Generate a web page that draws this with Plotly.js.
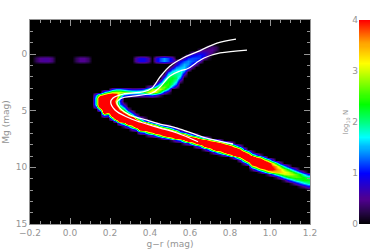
<!DOCTYPE html>
<html><head><meta charset="utf-8">
<script src="https://cdn.plot.ly/plotly-3.0.1.min.js"></script>
<style>html,body{margin:0;padding:0;background:#fff}#c{width:374px;height:249px}</style>
</head><body><div id="c"></div>
<script>
// Hess-diagram bins: column, first row, then log10 N values
const clump = [
[1,13,.3,.3],[2,13,.5,.5],[3,13,.55,.55],[4,13,.55,.55],[5,13,.4,.4],
[11,13,.3,.3],[12,13,.5,.5],[13,13,.5,.5],[14,13,.35,.35],
[26,13,.6,.6],[27,13,.9,.9],[28,13,.9,.9],[29,13,.6,.6],
[31,13,.8,.8],[32,13,1.2,1.2],[33,13,1.45,1.45],[34,13,1.2,1.2],[35,13,.8,.8]
];
const turnoff = [
[16,26,1.4,2,2,2,1.4],
[17,26,3.2,5.5,5.5,5.5,5.5,2.5],
[18,25,1.5,4,5.5,5.5,5.5,5.5,5.5,5.5,1.5],
[19,25,2.2,5,5.5,5.5,5.5,5.5,5.5,4,1],
[20,24,1,3,5,5.5,5.5,5.5,5.5,5.5,5.5,5.5,2],
[21,24,1.5,3,4.5,3.8,3,3.5,4.2,5.5,5.5,5.5,5.5,1.5],
[22,24,1.5,3,2.5,1.5,1,1.3,2,3,5,5.5,5.5,5.5,1.5],
[23,24,1.2,2.8,1.2],[23,29,.5,1,2,3.2,5.5,5.5,5.5,2.5,.5],
[24,24,1,2.5,1],[24,31,.6,1.8,3.5,5.5,5.5,5.5,1.5],
[25,24,.8,2.3,.8],[25,32,.8,2,5.5,5.5,5.5,3,.8],
[26,24,.8,2.2,.8],[26,33,.8,2.5,5.5,5.5,5.5,1.5],
[27,24,.9,2.2,.8],[27,34,1,3,5.5,5.5,5,1.2],
[28,24,1.2,2.4,.9],[28,34,.4,1.5,5.5,5.5,5.5,1.5],
[29,23,.6,2,3,1],[29,35,.6,2.8,5.5,5.5,3,.5],
[30,23,1,2.8,3.4,1.2],[30,36,1.5,5.5,5.5,3.8,.8]
];
const giantBranch = [
[31,22,.8,2,3,3,.8],
[32,21,.8,1.8,2.6,3,2.2,.3],
[33,19,.5,1.3,2,2.4,2.7,2.5,1],
[34,17,.5,1.2,1.8,2.2,2.4,2.5,2.3,1.6,.4],
[35,16,.6,1.4,1.8,2.1,2.3,2.2,2,1.3],
[36,14,.5,.7,1.3,1.7,1.9,2,2.1,1.8,1.3,.5],
[37,14,.9,1.2,1.5,1.7,1.9,1.8,1.3,.5],
[38,13,.6,1.2,1.5,1.6,1.6,1.2,.5],
[39,12,.5,1.1,1.4,1.4,1.2,.6],
[40,11,.5,.9,1.2,1.25,1,.5],
[41,11,.7,1,1.2,1.1,.6],
[42,10,.4,.8,1.1,1.15,.7],
[43,10,.5,.8,.9,.6],
[44,9,.3,.5,.6,.5,.2],
[45,9,.4,.5,.4],
[46,9,.3,.3]
];
const mainSequence = [
[31,36,.8,3.5,5.5,5.5,1.8],
[32,37,2,5.5,5.5,3,.3],
[33,37,1.2,4,5.5,4.5,1],
[34,37,.6,3.2,5.5,5.5,1.8],
[35,38,2,5,5.5,3,.3],
[36,38,.8,4,5.5,4.5,1],
[37,39,1.5,5.5,5.5,1.5],
[38,39,1,4.5,5.5,3.5,.5],
[39,40,2.5,5.5,5.5,1],
[40,40,1.5,5,5.5,2.5],
[41,40,.8,4,5.5,4,.8],
[42,41,2.5,5.5,5.5,1.5],
[43,41,1.5,4.5,5.5,4,.5],
[44,41,.7,3.5,5.5,5.5,1.5],
[45,42,2.5,5.5,5.5,3.5,.5],
[46,42,1.5,5,5.5,5.5,1.5],
[47,42,.8,4,5.5,5.5,2.5,.3],
[48,43,3,5.5,5.5,4,.8],
[49,43,1.5,5,5.5,5.5,2],
[50,43,.7,3.5,5.5,5.5,3.5,.5],
[51,44,2,5,5.5,5.5,2],
[52,44,.8,3.5,5.5,5.5,3.5,.8],
[53,45,1,4,5.5,5.5,3,.6],
[54,46,2.5,5,5.5,5,2],
[55,46,.5,2.5,5.5,5.5,5.5,2.8,.5],
[56,47,1.5,3.5,5.5,5.5,3.8,1.5],
[57,47,.5,2.8,5.5,5.5,5.5,2.8,.4],
[58,48,1.2,3.6,5.5,5.5,3.6,1.4],
[59,49,2.5,4.5,5,4.5,2.5,.4],
[60,49,1,3.3,3.9,4.2,3.2,1.2],
[61,50,2.2,3.5,3.7,3.4,2,.3],
[62,50,.8,2.6,3.4,3.4,2.6,1],
[63,51,1.6,2.8,3.2,3,1.8,.3],
[64,51,.7,2.2,3,3,2.3,1],
[65,52,1.4,2.6,2.9,2.5,1.5,.3],
[66,52,.7,2,2.6,2.6,2,.8],
[67,53,1.3,2.3,2.5,2.2,1.3,.3],
[68,53,.5,1.6,2.3,2.4,1.7,.6],
[69,54,1,2,2.3,2,1,.2]
];
const iso1Color = [.64,.535,.45,.35,.285,.225,.2035,.215,.265,.365,.41,.45,.5,.565,.635,.735,.83];
const iso1Mag = [7.74,6.97,6.53,6.0,5.56,4.94,4.24,3.88,3.53,3.35,3.0,2.03,1.06,.35,-.18,-.97,-1.32];
const iso2Color = [.815,.665,.535,.45,.385,.3,.25,.235,.26,.315,.41,.45,.5,.55,.59,.63,.67,.75,.885];
const iso2Mag = [7.94,7.33,6.53,6.18,5.83,5.38,4.77,4.24,3.88,3.71,3.44,2.91,1.94,1.5,1.28,.79,.35,-.09,-.35];
const xTicks = [-0.2,0,0.2,0.4,0.6,0.8,1,1.2];
const xTickText = ['\u22120.2','0.0','0.2','0.4','0.6','0.8','1.0','1.2'];
const yTicks = [0,5,10,15];
const barTicks = [0,1,2,3,4];

const rainbow = [[0,'#000000'],[.0625,'#28064a'],[.125,'#500090'],[.25,'#0000ff'],[.375,'#00b0ff'],[.425,'#00ffff'],
 [.5,'#00ff80'],[.59,'#00ff00'],[.75,'#d0ff00'],[.79,'#ffff00'],[.89,'#ffa000'],[1,'#ff0000']];

const nCols=70,nRows=72,xs=[],ys=[],z=[];
for(let k=0;k<nCols;k++) xs.push(-0.19+0.02*k);
for(let r=0;r<nRows;r++){ys.push(-3+(r+.5)*.25);z.push(new Array(nCols).fill(0));}
[clump,turnoff,giantBranch,mainSequence].forEach(list=>list.forEach(s=>{
  for(let i=2;i<s.length;i++) z[s[1]+i-2][s[0]]=s[i];
}));
const barY=[],barZ=[];
for(let i=0;i<=200;i++){barY.push(i*.02);barZ.push([i*.02,i*.02]);}

const gray='#949494', W=374, H=249;
const font={family:'"DejaVu Sans",sans-serif',size:9,color:gray};
const traces=[
 {type:'heatmap',x:xs,y:ys,z:z,zmin:0,zmax:4,zsmooth:'best',colorscale:rainbow,showscale:false,hoverinfo:'skip'},
 {type:'scatter',mode:'lines',x:iso1Color,y:iso1Mag,line:{color:'#fff',width:1.3,shape:'spline'},hoverinfo:'skip'},
 {type:'scatter',mode:'lines',x:iso2Color,y:iso2Mag,line:{color:'#fff',width:1.3,shape:'spline'},hoverinfo:'skip'},
 {type:'heatmap',x:[0,1],y:barY,z:barZ,zmin:0,zmax:4,zsmooth:'best',colorscale:rainbow,showscale:false,xaxis:'x2',yaxis:'y2',hoverinfo:'skip'}
];
const layout={
 width:W,height:H,margin:{l:0,r:0,t:0,b:0},paper_bgcolor:'#fff',plot_bgcolor:'#000',showlegend:false,font:font,
 xaxis:{domain:[30/W,310/W],range:[-0.2,1.2],tickvals:xTicks,ticktext:xTickText,ticks:'inside',ticklen:6,tickcolor:gray,tickwidth:1,
  minor:{dtick:.05,ticks:'inside',ticklen:3,tickcolor:gray,tickwidth:1},
  showgrid:false,zeroline:false,showline:true,linecolor:gray,linewidth:1,mirror:'ticks',tickfont:font,
  title:{text:'g\u2212r (mag)',font:font,standoff:4}},
 yaxis:{domain:[(H-224)/H,(H-20)/H],range:[15,-3],tickvals:yTicks,ticks:'inside',ticklen:6,tickcolor:gray,tickwidth:1,
  minor:{dtick:1,ticks:'inside',ticklen:3,tickcolor:gray,tickwidth:1},
  showgrid:false,zeroline:false,showline:true,linecolor:gray,linewidth:1,mirror:'ticks',tickfont:font,
  title:{text:'Mg (mag)',font:font,standoff:4}},
 xaxis2:{domain:[359/W,370/W],range:[0,1],anchor:'y2',showticklabels:false,ticks:'',showgrid:false,zeroline:false},
 yaxis2:{domain:[(H-224)/H,(H-20)/H],range:[0,4],anchor:'x2',tickvals:barTicks,ticks:'',showgrid:false,zeroline:false,tickfont:font,
  title:{text:'log<sub>10</sub> N',font:{family:font.family,size:7,color:gray},standoff:2}}
};
Plotly.newPlot('c',traces,layout,{staticPlot:true,displayModeBar:false});
</script></body></html>
